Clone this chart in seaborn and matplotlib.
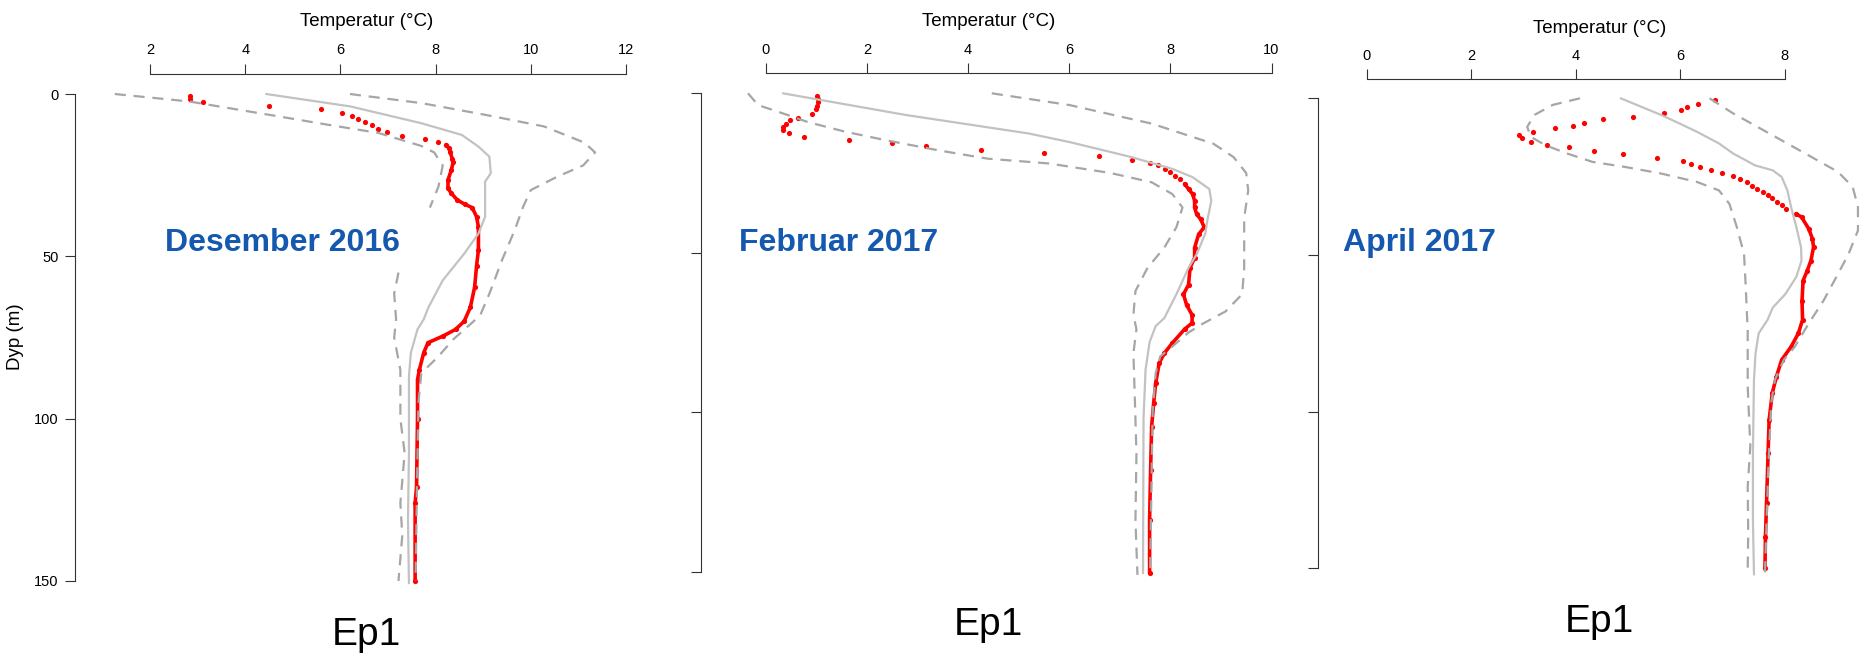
"""
Temperature profiles (Ep1) for Desember 2016, Februar 2017 and April 2017.
Observed profile (red points) against mean (solid) and min/max (dashed).
"""

import numpy as np
import pandas as pd
import matplotlib
matplotlib.use("Agg")
import matplotlib.pyplot as plt
import seaborn as sns

sns.set_style("ticks")
plt.rcParams['font.family'] = ['Liberation Sans', 'DejaVu Sans']
plt.rcParams['text.color'] = 'black'
plt.rcParams['xtick.labelcolor'] = 'black'
plt.rcParams['ytick.labelcolor'] = 'black'

# ---------------- data ----------------
months = ["Desember 2016", "Februar 2017", "April 2017"]
station = "Ep1"
x_ticks = [[2, 4, 6, 8, 10, 12], [0, 2, 4, 6, 8, 10], [0, 2, 4, 6, 8]]
y_ticks = [0, 50, 100, 150]

# Desember 2016
mean1_d = [0, 3.8, 9, 12.6, 16.2, 19.3, 24.4, 27, 37.8, 43, 49.2, 57.4, 65.7, 69.4, 72.5, 79.7, 87, 110.6, 131, 150.7]
mean1_t = [4.44, 6.2, 7.7, 8.55, 8.9, 9.13, 9.16, 9.04, 9.04, 8.9, 8.6, 8.15, 7.85, 7.75, 7.62, 7.48, 7.44, 7.44, 7.42, 7.44]
min1_d = [0, 2.3, 6.4, 9.5, 12, 16, 18, 22, 28.5, 35, np.nan, 55, 61.5, 69.4, 75, 85, 100, 110.6, 126, 136, 150]
min1_t = [1.26, 2.82, 4.5, 5.75, 6.8, 7.7, 7.97, 8.15, 8.06, 7.88, np.nan, 7.22, 7.13, 7.17, 7.13, 7.26, 7.26, 7.35, 7.26, 7.3, 7.22]
max1_d = [0, 2.8, 6.4, 10, 15, 18, 22, 25.5, 29.6, 34.7, 42, 51, 61.5, 67.7, 70, 75.6, 80.8, 86, 95, 120, 150]
max1_t = [6.2, 7.7, 9.04, 10.28, 11.13, 11.35, 11.1, 10.55, 10.0, 9.84, 9.66, 9.4, 9.13, 8.95, 8.8, 8.37, 8.06, 7.7, 7.64, 7.61, 7.58]
obs1_d = [0.7, 1.5, 2.6, 3.6, 4.6, 5.7, 6.7, 7.6, 8.6, 9.7, 10.7, 11.8, 12.8, 13.8, 14.9, 15.6, 16.7, 18, 20, 21,
          23.4, 26.5, 29, 30.6, 32.7, 34, 35, 37.8, 41, 48, 53, 59.5, 65.7, 70, 72.5, 74.6, 76.6, 79.7, 84.9, 88,
          100, 121, 126, 150]
obs1_t = [2.84, 2.84, 3.11, 4.49, 5.59, 6.04, 6.25, 6.37, 6.52, 6.67, 6.79, 6.98, 7.29, 7.77, 8.04, 8.22, 8.28, 8.31, 8.35, 8.37,
          8.33, 8.26, 8.26, 8.33, 8.46, 8.62, 8.77, 8.86, 8.9, 8.9, 8.86, 8.82, 8.73, 8.6, 8.42, 8.15, 7.84, 7.75, 7.66, 7.62,
          7.62, 7.6, 7.57, 7.57]

# Februar 2017
mean2_d = [0, 6.8, 12.6, 15.3, 20, 23.7, 26.3, 30, 33.7, 40, 44, 50.5, 54.7, 63, 70.5, 73, 78, 86.7, 102, 150.5]
mean2_t = [0.34, 2.77, 5.2, 6.01, 7.23, 8.04, 8.44, 8.77, 8.81, 8.73, 8.69, 8.52, 8.36, 8.12, 7.88, 7.71, 7.59, 7.51, 7.47, 7.46]
min2_d = [0, 3.7, 6.3, 9, 12, 14.7, 17.9, 20.5, 22, 25, 27.9, 31.6, 35.8, 42, 48.4, 54.7, 62, 69.5, 74, 81.5, 102, 113, 134, 151]
min2_t = [-0.35, -0.15, 0.34, 0.83, 1.56, 2.37, 3.42, 4.39, 5.6, 6.82, 7.63, 8.04, 8.24, 8.12, 7.88, 7.55, 7.31, 7.27, 7.33, 7.27, 7.31, 7.33, 7.31, 7.35]
max2_d = [0, 3.7, 9.5, 15.8, 20, 25, 30.5, 39, 54.7, 63, 68.4, 72.6, 75, 79.4, 82.5, 87.8, 100, 150]
max2_t = [4.47, 6.01, 7.63, 8.85, 9.25, 9.5, 9.54, 9.46, 9.46, 9.42, 9.09, 8.6, 8.36, 8.04, 7.8, 7.71, 7.65, 7.6]
obs2_d = [0.7, 1.8, 2.8, 3.9, 4.9, 6.6, 7.6, 8.4, 9.5, 10.5, 11.6, 12.6, 13.7, 14.7, 15.6, 16.5, 17.7, 18.7, 19.8, 20.9,
          22, 22.6, 23.7, 24.7, 25.8, 26.8, 28.4, 30, 31.6, 33.7, 35.8, 37.9, 39.5, 42, 44.2, 48.4, 51.6, 54.7, 60, 63,
          66.3, 69.5, 72, 74, 78.3, 81.5, 84.6, 90.9, 97.2, 104.5, 118, 133.8, 150.5]
obs2_t = [1.01, 1.03, 1.03, 1.01, 0.99, 0.92, 0.64, 0.49, 0.41, 0.34, 0.34, 0.46, 0.76, 1.64, 2.49, 3.16, 4.25, 5.51, 6.58, 7.25,
          7.59, 7.76, 7.89, 8.0, 8.1, 8.2, 8.28, 8.36, 8.44, 8.48, 8.48, 8.52, 8.6, 8.67, 8.56, 8.48, 8.48, 8.39, 8.36, 8.26,
          8.32, 8.43, 8.43, 8.28, 8.04, 7.88, 7.78, 7.71, 7.67, 7.63, 7.61, 7.59, 7.59]

# April 2017
mean3_d = [0, 5.3, 8, 10.7, 14.4, 17.6, 21.4, 23, 25.1, 29.4, 34.7, 41, 47.5, 51.8, 57, 62.5, 66.8, 70.7, 75, 81.4, 89.9, 113, 134.6, 152]
mean3_t = [4.86, 5.63, 5.98, 6.32, 6.74, 7.01, 7.43, 7.77, 7.94, 8.05, 8.12, 8.22, 8.31, 8.32, 8.22, 8.01, 7.77, 7.67, 7.5, 7.44, 7.41, 7.39, 7.39, 7.41]
min3_d = [0, 2.1, 5.3, 9.1, 12.3, 15, 17.6, 20.3, 21.9, 24, 26.7, 29.4, 33.7, 41, 49.7, 59.3, 74.3, 92, 111, 124, 138.8, 150]
min3_t = [4.08, 3.56, 3.21, 3.07, 3.14, 3.42, 3.83, 4.32, 4.94, 5.63, 6.32, 6.74, 6.94, 7.08, 7.22, 7.25, 7.29, 7.29, 7.34, 7.29, 7.3, 7.29]
max3_d = [0, 4.8, 11.2, 17.6, 23.5, 28.3, 34.7, 42.2, 49.7, 56, 64.6, 71.8, 79.3, 83.5, 89.9, 97.3, 120, 151.6]
max3_t = [6.56, 7.01, 7.7, 8.39, 9.02, 9.3, 9.4, 9.4, 9.22, 9.02, 8.74, 8.46, 8.19, 7.98, 7.81, 7.74, 7.68, 7.62]
obs3_d = [0.7, 1.9, 2.7, 3.7, 4.8, 5.9, 6.7, 7.8, 8.7, 9.6, 10.7, 11.6, 12.7, 13.8, 14.9, 15.7, 16.8, 17.8, 18.9, 19.9,
          21, 22, 22.8, 23.8, 24.9, 25.9, 26.8, 27.9, 28.8, 29.8, 30.9, 31.9, 33, 34.2, 35.3, 36.9, 37.9, 41.7, 44.9, 47.5,
          51.8, 55, 58.2, 64.6, 70.7, 75, 79.3, 83.5, 88.8, 94.1, 102.7, 113.3, 129.3, 139.9, 150]
obs3_t = [6.67, 6.34, 6.13, 6.02, 5.69, 5.09, 4.53, 4.15, 3.94, 3.61, 3.19, 2.92, 2.97, 3.14, 3.44, 3.87, 4.35, 4.9, 5.56, 6.06,
          6.2, 6.37, 6.58, 6.8, 7.0, 7.15, 7.27, 7.37, 7.47, 7.58, 7.68, 7.76, 7.85, 7.94, 8.03, 8.22, 8.32, 8.46, 8.53, 8.55,
          8.5, 8.43, 8.35, 8.33, 8.34, 8.26, 8.12, 7.94, 7.84, 7.76, 7.7, 7.68, 7.65, 7.63, 7.62]

# depth where observed dots start to merge into a continuous chain
dense_from = [15.6, 28.4, 36.9]

panels = [
    (mean1_d, mean1_t, min1_d, min1_t, max1_d, max1_t, obs1_d, obs1_t),
    (mean2_d, mean2_t, min2_d, min2_t, max2_d, max2_t, obs2_d, obs2_t),
    (mean3_d, mean3_t, min3_d, min3_t, max3_d, max3_t, obs3_d, obs3_t),
]

# ---------------- layout (pixels in the 1863x653 figure) ----------------
W, H = 1863, 653
layout = [
    dict(xpx=(150, 626), ypx=(94, 581), box=(75, 74, 660, 600),
         title_xy=(367, 26), month_xy=(165, 251), ep_xy=(366, 645)),
    dict(xpx=(765.7, 1271.5), ypx=(93.3, 571.7), box=(701, 73.3, 1300, 600),
         title_xy=(989, 26), month_xy=(739, 251), ep_xy=(988, 635)),
    dict(xpx=(1366.8, 1784.8), ypx=(98.3, 568.3), box=(1318, 79.3, 1862, 600),
         title_xy=(1600, 32.7), month_xy=(1343, 251), ep_xy=(1599, 632)),
]

RED = "#FF0000"
MEAN_COL = "#C2C2C2"
MINMAX_COL = "#A6A6A6"
MONTH_COL = "#1558B0"
AX_COL = "#333333"
tick_font = ['Liberation Sans Narrow', 'Liberation Sans', 'DejaVu Sans']

fig = plt.figure(figsize=(W / 100, H / 100), dpi=100)


def segments(d, t):
    # split a profile at NaN gaps
    df = pd.DataFrame({"d": d, "t": t})
    grp = df["d"].isna().cumsum()
    return [g.dropna() for _, g in df.groupby(grp) if len(g.dropna()) > 1]


for i, (panel, lay) in enumerate(zip(panels, layout)):
    mean_d, mean_t, min_d, min_t, max_d, max_t, obs_d, obs_t = panel
    xt = x_ticks[i]
    l, t_, r, b = lay["box"]
    sx = (lay["xpx"][1] - lay["xpx"][0]) / (xt[-1] - xt[0])
    sy = (lay["ypx"][1] - lay["ypx"][0]) / 150.0
    xlim = (xt[0] + (l - lay["xpx"][0]) / sx, xt[0] + (r - lay["xpx"][0]) / sx)
    ylim = ((b - lay["ypx"][0]) / sy, (t_ - lay["ypx"][0]) / sy)

    ax = fig.add_axes([l / W, 1 - b / H, (r - l) / W, (b - t_) / H])
    ax.set_xlim(xlim)
    ax.set_ylim(ylim)

    # observed profile
    obs = pd.DataFrame({"d": obs_d, "t": obs_t})
    dense = obs[obs["d"] >= dense_from[i]]
    sns.lineplot(data=dense, x="t", y="d", sort=False, estimator=None, ax=ax,
                 color=RED, lw=2.6, zorder=2)
    sns.scatterplot(data=obs, x="t", y="d", ax=ax, color=RED, s=14,
                    linewidth=0, zorder=3)

    # mean
    sns.lineplot(x=mean_t, y=mean_d, sort=False, estimator=None, ax=ax,
                 color=MEAN_COL, lw=1.6, zorder=4)
    # min / max
    for dd, tt in [(min_d, min_t), (max_d, max_t)]:
        for seg in segments(dd, tt):
            sns.lineplot(data=seg, x="t", y="d", sort=False, estimator=None, ax=ax,
                         color=MINMAX_COL, lw=1.6, linestyle=(0, (5, 3.5)), zorder=5)

    # axes: R style, top x axis and left y axis
    ax.xaxis.tick_top()
    ax.set_xticks(xt)
    ax.set_yticks(y_ticks)
    for side in ["right", "bottom"]:
        ax.spines[side].set_visible(False)
    ax.spines["top"].set_bounds(xt[0], xt[-1])
    ax.spines["left"].set_bounds(0, 150)
    for side in ["top", "left"]:
        ax.spines[side].set_color(AX_COL)
        ax.spines[side].set_linewidth(0.8)
    ax.tick_params(axis="both", direction="out", length=7, width=0.8, color=AX_COL,
                   labelsize=10.5, labelcolor="black", pad=5)
    for lab in ax.get_xticklabels():
        lab.set_family(tick_font)
    if i == 0:
        for lab in ax.get_yticklabels():
            lab.set_family(tick_font)
    else:
        ax.set_yticklabels([])
    ax.set_xlabel("")
    ax.set_ylabel("")
    ax.patch.set_alpha(0)

    fig.text(lay["title_xy"][0] / W, 1 - lay["title_xy"][1] / H, "Temperatur (\u00b0C)",
             ha="center", va="baseline", fontsize=13.5, color="black")
    fig.text(lay["month_xy"][0] / W, 1 - lay["month_xy"][1] / H, months[i],
             ha="left", va="baseline", fontsize=23, fontweight="bold", color=MONTH_COL)
    fig.text(lay["ep_xy"][0] / W, 1 - lay["ep_xy"][1] / H, station,
             ha="center", va="baseline", fontsize=28, color="black")

fig.text(15.5 / W, 1 - 337 / H, "Dyp (m)", rotation=90, ha="center", va="center",
         fontsize=13.5, color="black")

fig.savefig("out.png", dpi=100)
